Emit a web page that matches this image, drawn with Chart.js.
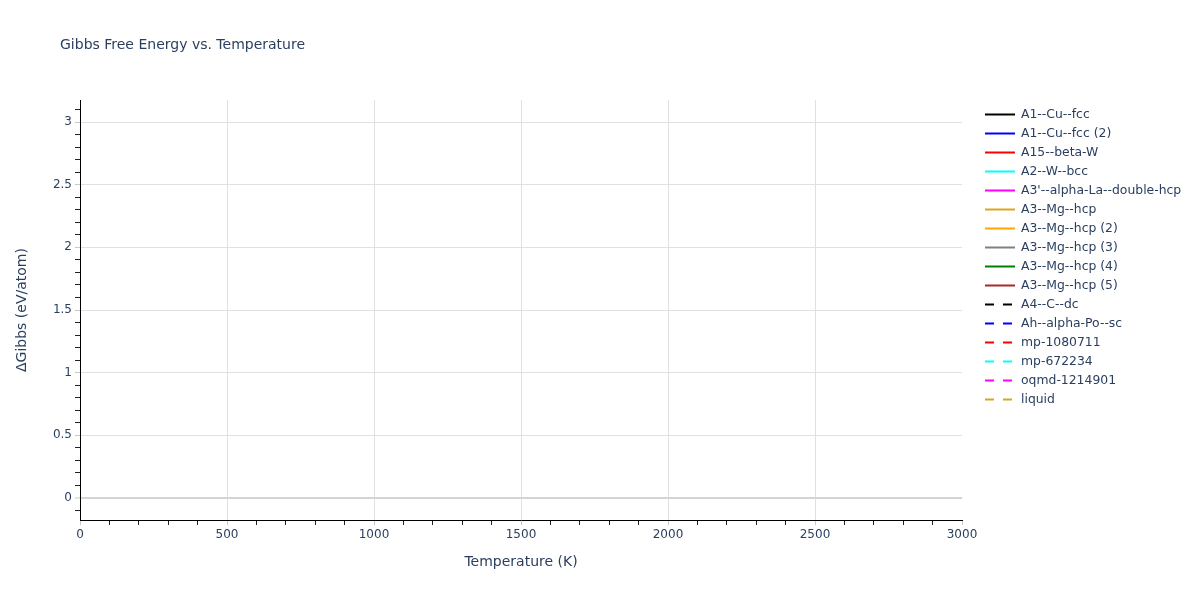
<!DOCTYPE html>
<html><head><meta charset="utf-8">
<script src="https://cdn.jsdelivr.net/npm/chart.js@4.4.1/dist/chart.umd.min.js"></script>
<style>html,body{margin:0;padding:0;background:#fff}#wrap{width:1200px;height:600px}</style>
</head><body><div id="wrap"><canvas id="c" width="1200" height="600"></canvas></div>
<script>
const chartTitle = 'Gibbs Free Energy vs. Temperature';
const xTitle = 'Temperature (K)';
const yTitle = 'ΔGibbs (eV/atom)';
const seriesNames = ['A1--Cu--fcc','A1--Cu--fcc (2)','A15--beta-W','A2--W--bcc',"A3'--alpha-La--double-hcp",'A3--Mg--hcp','A3--Mg--hcp (2)','A3--Mg--hcp (3)','A3--Mg--hcp (4)','A3--Mg--hcp (5)','A4--C--dc','Ah--alpha-Po--sc','mp-1080711','mp-672234','oqmd-1214901','liquid'];
const seriesColors = ['black','blue','red','cyan','magenta','goldenrod','orange','gray','green','brown','black','blue','red','cyan','magenta','goldenrod'];
const seriesDashed = [false,false,false,false,false,false,false,false,false,false,true,true,true,true,true,true];
// No curve is visible inside the plotted range of the reference: every series is empty.
const seriesValues = [[],[],[],[],[],[],[],[],[],[],[],[],[],[],[],[]];
const xMin = 0, xMax = 3000, yMin = -0.176, yMax = 3.176;
const xTickValues = [0,500,1000,1500,2000,2500,3000];
const xTickLabels = ['0','500','1000','1500','2000','2500','3000'];
const yTickValues = [0,0.5,1,1.5,2,2.5,3];
const yTickLabels = ['0','0.5','1','1.5','2','2.5','3'];
const xMinorStep = 100, yMinorStep = 0.1;

const TXT = '#2a3f5f', GRID = '#e0e0e0', ZERO = '#d4d4d4';
const FONT = '"DejaVu Sans", Verdana, sans-serif';
const r = v => Math.round(v * 1000) / 1000;
function minorTicks(min, max, step) {
  const out = [];
  for (let v = Math.ceil(min / step) * step; v <= max + 1e-9; v += step) out.push({value: r(v)});
  return out;
}
const isMajor = (vals, v) => vals.some(m => Math.abs(m - v) < 1e-6);

const datasets = seriesNames.map((n, i) => ({
  label: n, data: seriesValues[i], borderColor: seriesColors[i], backgroundColor: seriesColors[i],
  borderWidth: 2, borderDash: seriesDashed[i] ? [9, 9] : [], pointRadius: 0, fill: false
}));

const decor = {
  id: 'decor',
  afterDraw(chart) {
    const ctx = chart.ctx;
    ctx.save();
    ctx.fillStyle = TXT;
    ctx.font = '14px ' + FONT;
    ctx.textBaseline = 'middle';
    ctx.textAlign = 'left';
    ctx.fillText(chartTitle, 60, 45);
    ctx.font = '12.4px ' + FONT;
    chart.data.datasets.forEach((d, i) => {
      const y = 114.5 + i * 19;
      ctx.strokeStyle = d.borderColor;
      ctx.lineWidth = 2;
      ctx.setLineDash(d.borderDash);
      ctx.beginPath(); ctx.moveTo(985, y); ctx.lineTo(1015, y); ctx.stroke();
      ctx.fillStyle = TXT;
      ctx.fillText(d.label, 1021, y);
    });
    ctx.restore();
  }
};

new Chart(document.getElementById('c'), {
  type: 'line',
  data: { datasets },
  plugins: [decor],
  options: {
    responsive: false, animation: false, devicePixelRatio: 1,
    parsing: false,
    layout: { padding: { left: 0, right: 238, top: 100, bottom: 0 } },
    plugins: { legend: { display: false }, title: { display: false }, tooltip: { enabled: false } },
    scales: {
      x: {
        type: 'linear', min: xMin, max: xMax,
        afterBuildTicks: s => { s.ticks = minorTicks(xMin, xMax, xMinorStep); },
        afterFit: s => { s.height = 80; },
        ticks: {
          autoSkip: false, maxRotation: 0, padding: 3, color: TXT, font: { family: FONT, size: 12 },
          callback: v => { const k = xTickValues.findIndex(m => Math.abs(m - v) < 1e-6); return k >= 0 ? xTickLabels[k] : ''; }
        },
        grid: {
          color: c => (c.tick && isMajor(xTickValues, c.tick.value) && c.tick.value !== xMin && c.tick.value !== xMax) ? GRID : 'rgba(0,0,0,0)',
          tickColor: c => (c.tick && isMajor(xTickValues, c.tick.value)) ? '#c8c8c8' : '#222',
          tickLength: 5, tickWidth: 1, lineWidth: 1
        },
        border: { display: true, color: '#000', width: 1 },
        title: { display: true, text: xTitle, color: TXT, font: { family: FONT, size: 14 }, padding: { top: 0, bottom: 29 } }
      },
      y: {
        type: 'linear', min: yMin, max: yMax,
        afterBuildTicks: s => { s.ticks = minorTicks(yMin, yMax, yMinorStep); },
        afterFit: s => { s.width = 80; },
        ticks: {
          autoSkip: false, padding: 3, color: TXT, font: { family: FONT, size: 12 },
          callback: v => { const k = yTickValues.findIndex(m => Math.abs(m - v) < 1e-6); return k >= 0 ? yTickLabels[k] : ''; }
        },
        grid: {
          color: c => (c.tick && isMajor(yTickValues, c.tick.value)) ? (Math.abs(c.tick.value) < 1e-9 ? ZERO : GRID) : 'rgba(0,0,0,0)',
          lineWidth: c => (c.tick && Math.abs(c.tick.value) < 1e-9) ? 2 : 1,
          tickColor: c => (c.tick && isMajor(yTickValues, c.tick.value)) ? '#c8c8c8' : '#222',
          tickLength: 5, tickWidth: 1
        },
        border: { display: true, color: '#000', width: 1 },
        title: { display: true, text: yTitle, color: TXT, font: { family: FONT, size: 14 }, padding: { top: 14, bottom: 0 } }
      }
    }
  }
});
</script></body></html>
